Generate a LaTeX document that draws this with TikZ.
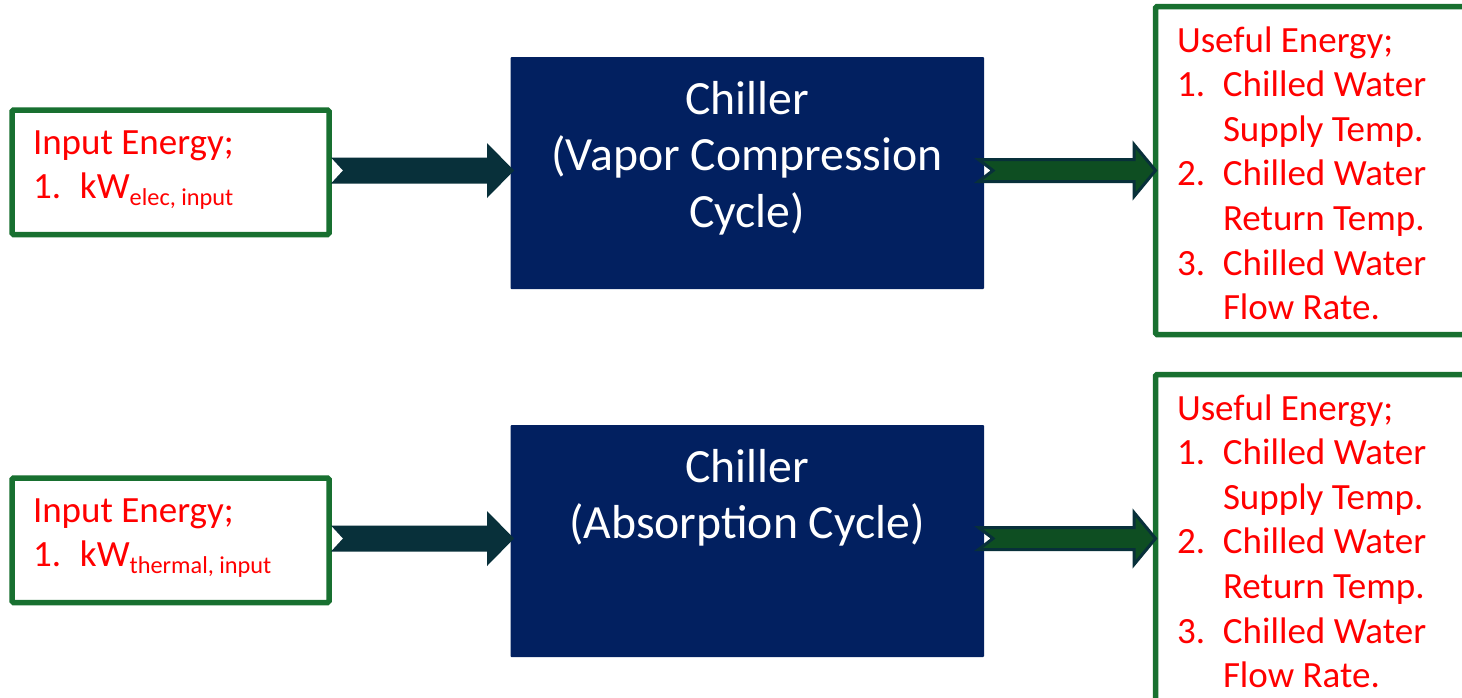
\documentclass[tikz,border=0pt]{standalone}
\usepackage{fontspec}
\setmainfont{Carlito}
\usetikzlibrary{calc}

\definecolor{boxgreen}{RGB}{24,112,48}
\definecolor{chillnavy}{RGB}{2,32,96}
\definecolor{arrowteal}{RGB}{8,48,58}
\definecolor{arrowgreen}{RGB}{14,78,34}
\definecolor{labelred}{RGB}{255,0,0}

% notched block arrow: style, tail point, tip point, shaft half-height,
% head half-height, head length, notch depth
\newcommand\chevarrow[7]{%
  \path[#1] let \p1=#2, \p2=#3 in
    (\x1,\y1+#4) -- (\x2-#6,\y1+#4) -- (\x2-#6,\y1+#5) -- (\x2,\y1)
    -- (\x2-#6,\y1-#5) -- (\x2-#6,\y1-#4) -- (\x1,\y1-#4) -- (\x1+#7,\y1) -- cycle;}

\tikzset{
  greenbox/.style={draw=boxgreen, line width=5.5pt, fill=white, rounded corners=1.5pt,
    rectangle, inner sep=0pt, outer sep=0pt},
  chillbox/.style={fill=chillnavy, rectangle, rounded corners=1pt, inner sep=0pt, outer sep=0pt},
  redtext/.style={text=labelred, inner sep=0pt, outer sep=0pt, anchor=base west,
    font=\fontsize{37}{44.6}\selectfont},
  whitetext/.style={text=white, inner sep=0pt, outer sep=0pt, anchor=base,
    font=\fontsize{47.7}{56.5}\selectfont},
  inarrow/.style={fill=arrowteal},
  outarrow/.style={fill=arrowgreen, draw=arrowteal, line width=3pt, line join=miter},
}

\newcommand\subtext[1]{\raisebox{-7pt}{\fontsize{24.3}{24.3}\selectfont #1}}

\begin{document}
\begin{tikzpicture}[x=1pt, y=-1pt]
  \useasboundingbox (0,0) rectangle (1462,697);
  \fill[white] (0,0) rectangle (1462,697);
  \clip (0,0) rectangle (1462,697);

  % ---- vapor compression row ----
  \node[greenbox, minimum width=317pt, minimum height=124.5pt] (in1) at (170.5,172.25) {};
  \node[chillbox, minimum width=473.5pt, minimum height=232pt] (ch1) at (747.25,173) {};
  \node[greenbox, minimum width=314.5pt, minimum height=328pt] (out1) at (1312.75,170.5) {};

  % ---- absorption row ----
  \node[greenbox, minimum width=317pt, minimum height=124.5pt] (in2) at (170.5,540.25) {};
  \node[chillbox, minimum width=473.5pt, minimum height=232pt] (ch2) at (747.25,541) {};
  \node[greenbox, minimum width=314.5pt, minimum height=328pt] (out2) at (1312.75,538.5) {};

  % input arrows
  \chevarrow{inarrow}{([shift={(2pt,1.75pt)}]in1.east)}{([xshift=3.5pt]ch1.west)}{13pt}{27.5pt}{27pt}{12pt}
  \chevarrow{inarrow}{([shift={(2pt,1.75pt)}]in2.east)}{([xshift=3.5pt]ch2.west)}{13pt}{27.5pt}{27pt}{12pt}
  % output arrows
  \chevarrow{outarrow}{([shift={(-5.5pt,2.5pt)}]ch1.east)}{(out1.west)}{11pt}{26pt}{21.5pt}{14.5pt}
  \chevarrow{outarrow}{([shift={(-5.5pt,2.5pt)}]ch2.east)}{(out2.west)}{11pt}{26pt}{21.5pt}{14.5pt}

  % texts
  \node[redtext] (in1txt) at (33,154) {\begin{tabular}[t]{@{}p{47pt}@{}l@{}}
      \multicolumn{2}{@{}l@{}}{Input Energy;}\\
      1. & kW\subtext{elec, input}
    \end{tabular}};
  \node[redtext] (in2txt) at (33,522) {\begin{tabular}[t]{@{}p{47pt}@{}l@{}}
      \multicolumn{2}{@{}l@{}}{Input Energy;}\\
      1. & kW\subtext{thermal, input}
    \end{tabular}};

  \node[whitetext] (ch1txt) at (747,114) {\begin{tabular}[t]{@{}c@{}}
      Chiller\\ (Vapor Compression\\ Cycle)
    \end{tabular}};
  \node[whitetext] (ch2txt) at (747,482) {\begin{tabular}[t]{@{}c@{}}
      Chiller\\ (Absorption Cycle)
    \end{tabular}};

  \node[redtext] (out1txt) at (1177,52) {\begin{tabular}[t]{@{}p{46pt}@{}l@{}}
      \multicolumn{2}{@{}l@{}}{Useful Energy;}\\
      1. & Chilled Water\\
         & Supply Temp.\\
      2. & Chilled Water\\
         & Return Temp.\\
      3. & Chilled Water\\
         & Flow Rate.
    \end{tabular}};
  \node[redtext] (out2txt) at (1177,420) {\begin{tabular}[t]{@{}p{46pt}@{}l@{}}
      \multicolumn{2}{@{}l@{}}{Useful Energy;}\\
      1. & Chilled Water\\
         & Supply Temp.\\
      2. & Chilled Water\\
         & Return Temp.\\
      3. & Chilled Water\\
         & Flow Rate.
    \end{tabular}};
\end{tikzpicture}
\end{document}
